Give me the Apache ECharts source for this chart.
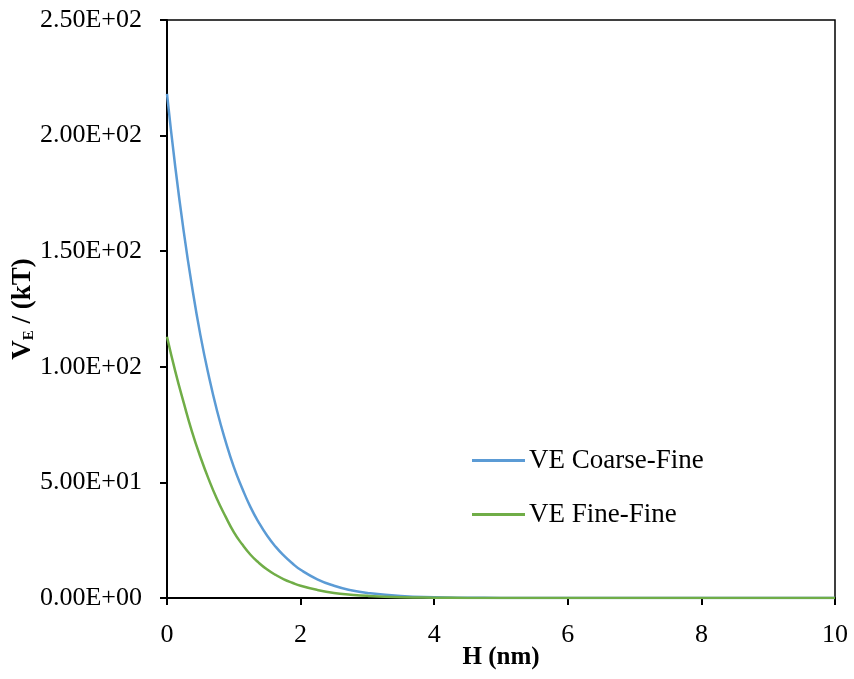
<!DOCTYPE html>
<html>
<head>
<meta charset="utf-8">
<script src="https://cdn.jsdelivr.net/npm/echarts@6/dist/echarts.min.js"></script>
<style>
  html, body { margin: 0; padding: 0; background: #fff; }
  #main { width: 854px; height: 679px; }
</style>
</head>
<body>
<div id="main"></div>
<script>
// separation distance H (nm)
var hValues = [0, 0.125, 0.25, 0.375, 0.5, 0.625, 0.75, 0.875, 1.0, 1.125, 1.25, 1.375, 1.5, 1.625, 1.75, 1.875, 2.0, 2.25, 2.5, 2.75, 3.0, 3.5, 4.0, 4.5, 5.0, 6.0, 7.0, 8.0, 9.0, 10.0]
// VE / (kT)
var coarseFine = [218, 186.2, 158.6, 134.6, 113.7, 96.1, 80.9, 68.0, 56.7, 47.5, 39.3, 32.6, 26.9, 22.2, 18.3, 15.0, 12.2, 8.1, 5.3, 3.4, 2.2, 0.86, 0.32, 0.11, 0.04, 0.003, 0, 0, 0, 0]
var fineFine = [113, 97.9, 84.5, 71.9, 61.0, 51.3, 42.7, 35.3, 28.5, 23.2, 18.7, 15.2, 12.3, 10.0, 8.1, 6.6, 5.3, 3.5, 2.2, 1.45, 0.93, 0.37, 0.14, 0.05, 0.02, 0, 0, 0, 0, 0]
var yTicks = [0, 50, 100, 150, 200, 250]
var xTicks = [0, 2, 4, 6, 8, 10]

var fontName = 'Liberation Serif'

function sciLabel (v) {
  // 150 -> 1.50E+02
  if (v === 0) return '0.00E+00'
  var e = Math.floor(Math.log10(Math.abs(v)))
  var m = v / Math.pow(10, e)
  var sign = e < 0 ? '-' : '+'
  var ea = Math.abs(e)
  return m.toFixed(2) + 'E' + sign + (ea < 10 ? '0' + ea : ea)
}

function pairs (xs, ys) {
  return xs.map(function (x, i) { return [x, ys[i]] })
}

var myChart = echarts.init(document.getElementById('main'))
var option = {
  backgroundColor: '#fff',
  animation: false,
  grid: {
    left: 167,
    top: 20,
    right: 19,
    bottom: 81,
    outerBoundsMode: 'none',
    containLabel: false,
    show: true,
    borderColor: '#000',
    borderWidth: 1.5
  },
  legend: {
    orient: 'vertical',
    left: 472,
    top: 447,
    padding: 0,
    icon: 'rect',
    itemWidth: 53,
    itemHeight: 3,
    itemGap: 27,
    textStyle: {
      fontFamily: fontName,
      fontSize: 27,
      color: '#000',
      padding: [0, 0, 0, -1]
    },
    data: ['VE Coarse-Fine', 'VE Fine-Fine']
  },
  xAxis: {
    type: 'value',
    min: xTicks[0],
    max: xTicks[xTicks.length - 1],
    interval: 2,
    name: 'H (nm)',
    nameLocation: 'middle',
    nameGap: 47,
    nameMoveOverlap: false,
    nameTextStyle: {
      fontFamily: fontName,
      fontSize: 25,
      fontWeight: 'bold',
      color: '#000'
    },
    axisLine: { lineStyle: { color: '#000', width: 2 } },
    axisTick: { show: true, inside: false, length: 7, lineStyle: { color: '#000', width: 2 } },
    axisLabel: {
      margin: 24,
      fontFamily: fontName,
      fontSize: 26,
      color: '#000'
    },
    splitLine: { show: false }
  },
  yAxis: {
    type: 'value',
    min: yTicks[0],
    max: yTicks[yTicks.length - 1],
    interval: 50,
    name: '{v|V}{sub|E}{v| / (kT)}',
    nameLocation: 'middle',
    nameRotate: 90,
    nameGap: 130,
    nameMoveOverlap: false,
    nameTextStyle: {
      rich: {
        v: { fontFamily: fontName, fontSize: 27, fontWeight: 'bold', color: '#000' },
        sub: { fontFamily: fontName, fontSize: 15, fontWeight: 'bold', color: '#000', padding: [12, 0, 0, 0] }
      }
    },
    axisLine: { show: true, lineStyle: { color: '#000', width: 2 } },
    axisTick: { show: true, inside: false, length: 7, lineStyle: { color: '#000', width: 2 } },
    axisLabel: {
      margin: 25,
      fontFamily: fontName,
      fontSize: 26,
      color: '#000',
      formatter: sciLabel
    },
    splitLine: { show: false }
  },
  series: [
    {
      name: 'VE Coarse-Fine',
      type: 'line',
      smooth: true,
      symbol: 'none',
      data: pairs(hValues, coarseFine),
      itemStyle: { color: '#5B9BD5' },
      lineStyle: { color: '#5B9BD5', width: 2.5 }
    },
    {
      name: 'VE Fine-Fine',
      type: 'line',
      smooth: true,
      symbol: 'none',
      data: pairs(hValues, fineFine),
      itemStyle: { color: '#70AD47' },
      lineStyle: { color: '#70AD47', width: 2.5 }
    }
  ]
}
myChart.setOption(option)
</script>
</body>
</html>
